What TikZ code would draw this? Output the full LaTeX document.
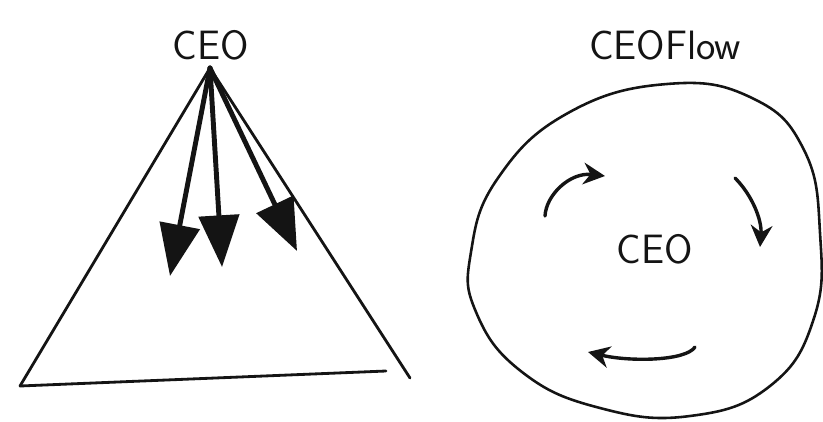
\documentclass[tikz,border=0pt]{standalone}
\usepackage{tikz}
\usetikzlibrary{positioning, arrows.meta}
\definecolor{nInk}{HTML}{141414}
\tikzset{
  sketch/.style={draw=nInk, line width=2.4pt, line cap=round, line join=round},
  push/.style={draw=nInk, line width=4.2pt, line cap=round,
    -{Triangle[length=1.55cm, width=1.2cm]}},
  turn/.style={draw=nInk, line width=2.9pt, line cap=round,
    -{Stealth[length=0.65cm, width=0.65cm]}},
  word/.style={font=\sffamily\fontsize{35}{40}\selectfont, text=nInk, inner sep=0pt},
}
\begin{document}
\begin{tikzpicture}[x=0.03cm, y=-0.03cm]
  \useasboundingbox (0,0) rectangle (823,421);
  % top-down: the pyramid
  \node[word] (boss) at (211,45) {CEO};
  \coordinate (apex) at (210,68);
  \coordinate (baseL) at (20,386);
  \coordinate (baseR) at (386,371);
  \coordinate (sideR) at (410,378);
  \draw[sketch] (baseL) -- (apex) -- (sideR);
  \draw[sketch] (baseL) -- (baseR);
  \coordinate (tipA) at (170,276);
  \coordinate (tipB) at (222,267);
  \coordinate (tipC) at (297,251);
  \draw[push] (apex) -- (tipA);
  \draw[push] (apex) -- (tipB);
  \draw[push] (apex) -- (tipC);
  % the flow: CEO in the middle of a loop
  \node[word] (flow) at (665,45) {CEOFlow};
  \draw[sketch, line width=2.2pt] plot[smooth cycle, tension=0.75] coordinates {
    (667,84) (752,98) (804,150) (820,233) (814,318) (770,386)
    (690,416) (600,408) (522,372) (476,312) (471,252) (498,178) (568,113)};
  \node[word] (center) at (655,249) {CEO};
  \coordinate (loopA0) at (545,216);
  \coordinate (loopA1) at (605,176);
  \coordinate (loopB0) at (735,178);
  \coordinate (loopB1) at (760,247);
  \coordinate (loopC0) at (695,347);
  \coordinate (loopC1) at (588,352);
  \draw[turn] (loopA0) .. controls (546,195) and (570,172) .. (loopA1);
  \draw[turn] (loopB0) .. controls (752,195) and (762,220) .. (loopB1);
  \draw[turn] (loopC0) .. controls (686,361) and (630,362) .. (loopC1);
\end{tikzpicture}
\end{document}
